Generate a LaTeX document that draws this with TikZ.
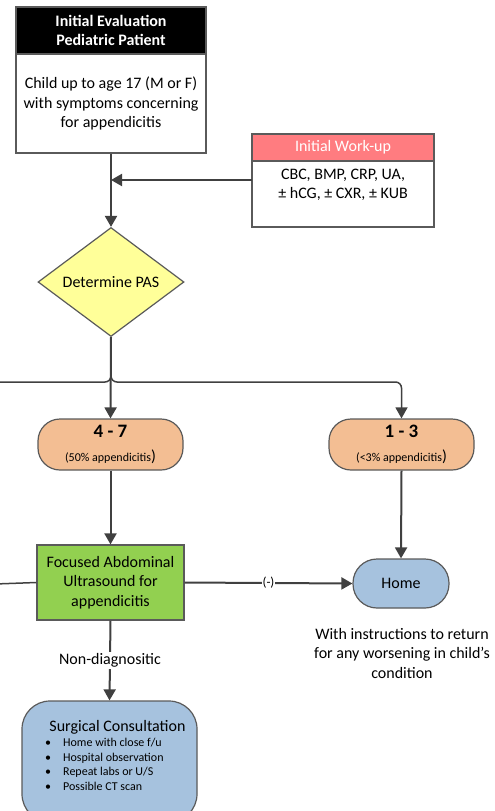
\documentclass[tikz,border=0pt]{standalone}
\usepackage{fontspec}
\setmainfont{Carlito}
\usetikzlibrary{shapes.geometric,arrows.meta}

\definecolor{linegray}{HTML}{404040}
\definecolor{boxgray}{HTML}{5A5A5A}
\definecolor{workpink}{HTML}{FF7C80}
\definecolor{pasyellow}{HTML}{FFFF99}
\definecolor{riskorange}{HTML}{F3BE93}
\definecolor{usgreen}{HTML}{92D050}
\definecolor{outblue}{HTML}{A6C2DE}

\begin{document}
\begin{tikzpicture}[x=1pt, y=-1pt,
  font=\fontsize{16}{19.5}\selectfont,
  box/.style={draw=boxgray, line width=1.2pt, rectangle, inner sep=0pt, align=center},
  flow/.style={draw=linegray, line width=2pt, -{Triangle[length=11pt,width=12pt]}},
  branch/.style={draw=linegray, line width=1.5pt, rounded corners=6pt},
  small/.style={font=\fontsize{12}{14.7}\selectfont}]
\useasboundingbox (0,0) rectangle (495,811);

% initial evaluation
\node[box, fill=black, text=white, font=\bfseries\fontsize{16}{19.5}\selectfont, minimum width=190pt, minimum height=47pt] (evalhead) at (111,30.5) {Initial Evaluation\\Pediatric Patient};
\node[box, fill=white, minimum width=190pt, minimum height=99pt] (evalbody) at (111,103.5) {Child up to age 17 (M or F)\\with symptoms concerning\\for appendicitis};

% work-up
\node[box, fill=workpink, text=white, minimum width=182pt, minimum height=27pt] (wuhead) at (343,147.5) {Initial Work-up};
\node[box, fill=white, minimum width=182pt, minimum height=66pt] (wubody) at (343,194) {};
\node[align=center, inner sep=0pt] (wutext) at (343,185) {CBC, BMP, CRP, UA,\\± hCG, ± CXR, ± KUB};

% score
\node[draw=boxgray, line width=1.2pt, fill=pasyellow, diamond, aspect=1.34, inner sep=0pt, minimum width=146pt, minimum height=109pt] (pas) at (111,282) {Determine PAS};

\node[box, fill=riskorange, rounded corners=22pt, minimum width=145pt, minimum height=51pt] (midrisk) at (110.5,444.5) {{\bfseries\fontsize{19}{21}\selectfont 4 - 7}\\[4pt]{\fontsize{12}{14}\selectfont (50\% appendicitis})};
\node[box, fill=riskorange, rounded corners=22pt, minimum width=145pt, minimum height=51pt] (lowrisk) at (401.5,444.5) {{\bfseries\fontsize{19}{21}\selectfont 1 - 3}\\[4pt]{\fontsize{12}{14}\selectfont (<3\% appendicitis})};

% imaging and outcomes
\node[box, fill=usgreen, minimum width=147pt, minimum height=75pt] (fau) at (110.5,582.5) {Focused Abdominal\\Ultrasound for\\appendicitis};
\node[box, fill=outblue, rounded corners=24pt, minimum width=96pt, minimum height=49pt] (home) at (401,583.5) {Home};
\node[align=center, inner sep=0pt] (homenote) at (402,653) {With instructions to return\\for any worsening in child’s\\condition};

\node[box, fill=outblue, rounded corners=28pt, minimum width=175pt, minimum height=121pt] (surg) at (109.5,761.5) {};
\node[inner sep=0pt] (surgtitle) at (117.5,727) {Surgical Consultation};
\node[small, align=left, anchor=north west, inner sep=0pt] (surgitems) at (45,738) {\makebox[18pt][l]{\textbullet}Home with close f/u\\\makebox[18pt][l]{\textbullet}Hospital observation\\\makebox[18pt][l]{\textbullet}Repeat labs or U/S\\\makebox[18pt][l]{\textbullet}Possible CT scan};

% connectors
\coordinate (wuline) at (252,180);
\coordinate (split) at (111,382);
\coordinate (leftout) at (-5,382);
\coordinate (fauin) at (-5,584);

\draw[flow] (evalbody.south) -- (pas.north);
\draw[flow] (wuline) -- (wuline -| pas);
\draw[branch] (pas.south) |- (leftout);
\draw[branch, -{Triangle[length=11pt,width=12pt]}] (pas.south) |- (lowrisk.north |- split) -- (lowrisk.north);
\draw[flow] (pas.south) -- (midrisk.north);
\draw[flow] (midrisk.south) -- (fau.north);
\draw[flow] (lowrisk.south) -- (home.north);
\draw[branch] (fauin) -- (fau.west);
\draw[flow] (fau.east) -- node[font=\fontsize{13}{15}\selectfont, fill=white, inner sep=1pt] {(-)} (home.west);
\draw[flow] (fau.south) -- node[fill=white, inner sep=2pt] {Non-diagnositic} (surg.north);
\end{tikzpicture}
\end{document}
